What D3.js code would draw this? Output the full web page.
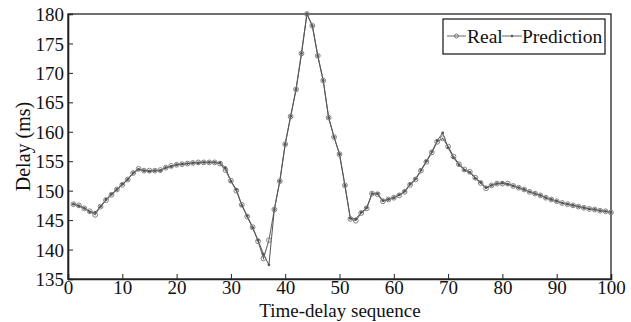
<!DOCTYPE html>
<html><head><meta charset="utf-8">
<script src="https://cdn.jsdelivr.net/npm/d3@7/dist/d3.min.js"></script>
<style>body{margin:0;background:#fff}svg{display:block}text{font-family:"Liberation Serif","Times New Roman",serif;fill:#111}</style>
</head><body>
<svg id="c" width="631" height="322"></svg>
<script>
const seq = d3.range(1, 101);
const real = [147.7,147.5,147.0,146.5,145.9,147.3,148.4,149.3,150.2,151.0,
151.9,153.0,153.7,153.4,153.4,153.4,153.5,153.9,154.2,154.4,
154.5,154.6,154.7,154.8,154.8,154.8,154.8,154.6,153.5,151.7,
150.0,147.6,145.6,143.8,141.4,138.5,141.6,146.8,151.6,157.9,
162.6,167.2,173.3,180.0,178.0,172.9,168.7,162.4,159.1,156.2,
150.9,145.2,144.9,146.2,147.0,149.5,149.4,148.2,148.5,148.8,
149.2,149.8,151.0,151.9,153.4,154.9,156.5,158.3,158.9,157.5,
155.8,154.5,153.6,153.2,152.2,151.3,150.4,150.9,151.2,151.2,
151.2,150.8,150.5,150.2,149.8,149.5,149.2,148.8,148.5,148.2,
147.9,147.7,147.5,147.3,147.1,146.9,146.8,146.6,146.5,146.3];
const prediction = [147.7,147.4,147.0,146.4,146.3,147.3,148.5,149.4,150.2,151.1,
151.9,153.0,153.6,153.4,153.3,153.4,153.4,153.9,154.1,154.4,
154.5,154.6,154.7,154.7,154.8,154.8,154.8,154.7,153.9,151.6,
150.2,147.5,145.7,143.7,141.6,139.2,137.4,146.8,151.6,157.9,
162.6,167.2,173.3,180.0,178.0,172.9,168.7,162.4,159.1,156.2,
150.9,145.3,145.2,146.3,147.1,149.5,149.5,148.3,148.5,148.8,
149.3,149.9,151.1,152.0,153.5,155.0,156.6,158.5,159.8,157.3,
155.6,154.4,153.5,153.1,152.1,151.4,150.5,150.9,151.2,151.3,
151.1,150.8,150.5,150.2,149.8,149.5,149.2,148.8,148.5,148.2,
147.9,147.7,147.5,147.3,147.1,146.9,146.8,146.6,146.5,146.3];
const xTicks = d3.range(0, 101, 10);
const yTicks = d3.range(135, 181, 5);
const seriesNames = ["Real", "Prediction"];

const svg = d3.select("#c");
const x = d3.scaleLinear().domain([0, 100]).range([68, 611]);
const y = d3.scaleLinear().domain([135, 180]).range([279, 14]);
const fs = 19;

svg.append("rect").attr("x", x(0)).attr("y", y(180)).attr("width", x(100) - x(0)).attr("height", y(135) - y(180))
  .attr("fill", "none").attr("stroke", "#222").attr("stroke-width", 1.3);

const xa = svg.append("g").attr("transform", `translate(0,${y(135)})`)
  .call(d3.axisBottom(x).tickValues(xTicks).tickSize(-5).tickPadding(6).tickFormat(d3.format("d")));
const ya = svg.append("g").attr("transform", `translate(${x(0)},0)`)
  .call(d3.axisLeft(y).tickValues(yTicks).tickSize(-5).tickPadding(4).tickFormat(d3.format("d")));
[xa, ya].forEach(a => {
  a.select(".domain").attr("stroke", "#222").attr("stroke-width", 1.6);
  a.selectAll(".tick line").attr("stroke", "#222");
  a.selectAll("text").attr("font-size", fs).attr("font-family", "Liberation Serif").attr("fill", "#111");
});
xa.selectAll("text").attr("dy", "0.45em");
ya.selectAll("text").attr("dy", "0.35em");

svg.append("text").attr("x", 340).attr("y", 317).attr("text-anchor", "middle").attr("font-size", 19).text("Time-delay sequence");
svg.append("text").attr("transform", `translate(30,${(y(135)+y(180))/2}) rotate(-90)`).attr("text-anchor", "middle")
  .attr("font-size", 20).text("Delay (ms)");

const line = d3.line().x((d, i) => x(seq[i])).y(d => y(d));
svg.append("path").datum(real).attr("d", line).attr("fill", "none").attr("stroke", "#6a6a6a").attr("stroke-width", 1.1);
svg.append("path").datum(prediction).attr("d", line).attr("fill", "none").attr("stroke", "#555").attr("stroke-width", 1);
svg.selectAll("circle.r").data(real).enter().append("circle").attr("class", "r")
  .attr("cx", (d, i) => x(seq[i])).attr("cy", d => y(d)).attr("r", 2.4)
  .attr("fill", "none").attr("stroke", "#808080").attr("stroke-width", 1);
svg.selectAll("circle.p").data(prediction).enter().append("circle").attr("class", "p")
  .attr("cx", (d, i) => x(seq[i])).attr("cy", d => y(d)).attr("r", 1.4)
  .attr("fill", "#555");

const lg = svg.append("g");
lg.append("rect").attr("x", 443).attr("y", 19).attr("width", 162).attr("height", 35)
  .attr("fill", "#fff").attr("stroke", "#111").attr("stroke-width", 1.2);
const items = [{name: seriesNames[0], x0: 447, x1: 466, tx: 467}, {name: seriesNames[1], x0: 502, x1: 522, tx: 522}];
items.forEach((it, k) => {
  lg.append("line").attr("x1", it.x0).attr("x2", it.x1).attr("y1", 36).attr("y2", 36).attr("stroke", "#666");
  if (k === 0) lg.append("circle").attr("cx", (it.x0 + it.x1) / 2).attr("cy", 36).attr("r", 2).attr("fill", "none").attr("stroke", "#777");
  else lg.append("circle").attr("cx", (it.x0 + it.x1) / 2).attr("cy", 36).attr("r", 1.3).attr("fill", "#555");
  lg.append("text").attr("x", it.tx).attr("y", 43).attr("font-size", 19.5).text(it.name);
});
</script>
</body></html>
